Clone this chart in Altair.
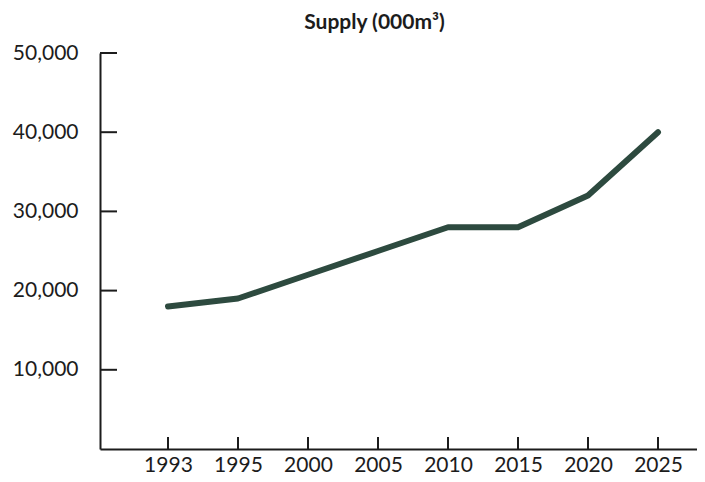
import altair as alt
import pandas as pd

years = ["1993", "1995", "2000", "2005", "2010", "2015", "2020", "2025"]
supply = [18000, 19000, 22000, 25000, 28000, 28000, 32000, 40000]
y_ticks = [10000, 20000, 30000, 40000, 50000]

df = pd.DataFrame({"idx": list(range(len(years))), "year": years, "supply": supply})
ydf = pd.DataFrame({"v": y_ticks})

label_expr = "[" + ",".join(f"'{y}'" for y in years) + "][datum.value]"

FONT = "Lato"
INK = "#1c1c1c"

xscale = alt.Scale(domain=[-0.971, 7.557], nice=False, zero=False)
yscale = alt.Scale(domain=[0, 50000], nice=False)

xaxis = alt.Axis(values=list(range(len(years))), labelExpr=label_expr, title=None,
                 ticks=False, tickSize=0, grid=False, labelPadding=22,
                 labelBaseline="alphabetic",
                 domainColor=INK, domainWidth=2, labelFont=FONT, labelFontSize=21,
                 labelColor=INK)
yaxis = alt.Axis(values=y_ticks, labelExpr="format(datum.value, ',')", title=None,
                 ticks=False, tickSize=0, grid=False, labelPadding=22, domainColor=INK,
                 domainWidth=2, labelFont=FONT, labelFontSize=21, labelColor=INK)

line = alt.Chart(df).mark_line(color="#2d4a3f", strokeWidth=6, strokeCap="round", strokeJoin="round").encode(
    x=alt.X("idx:Q", scale=xscale, axis=xaxis, title=None),
    y=alt.Y("supply:Q", scale=yscale, axis=yaxis, title=None),
)

xt = alt.Chart(df).mark_rule(color=INK, strokeWidth=2).encode(
    x=alt.X("idx:Q", scale=xscale, axis=xaxis, title=None),
    y=alt.value(396), y2=alt.value(384),
)

yt = alt.Chart(ydf).mark_rule(color=INK, strokeWidth=2).encode(
    y=alt.Y("v:Q", scale=yscale, axis=yaxis, title=None),
    x=alt.value(0), x2=alt.value(17),
)

chart = alt.layer(line, xt, yt).properties(
    width=597, height=396,
    autosize=alt.AutoSizeParams(type="none"),
    padding={"left": 92, "top": 45, "right": 0, "bottom": 25},
    title=alt.TitleParams("Supply (000m³)", font=FONT, fontSize=21, fontWeight="bold",
                          color=INK, anchor="middle", dx=-24, offset=-8, baseline="alphabetic"),
).configure_view(stroke=None)

chart.save("out.html", embed_options={"renderer": "svg", "actions": False})
